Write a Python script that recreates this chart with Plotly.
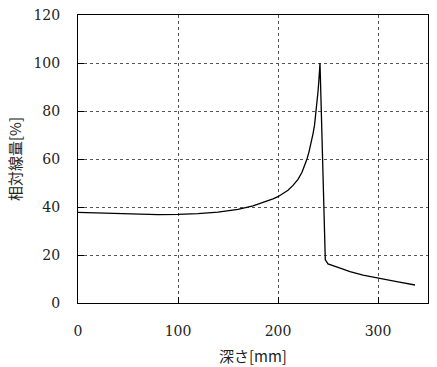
import plotly.graph_objects as go

depth_mm = [0, 20, 40, 60, 80, 100, 120, 140, 160, 175, 185, 195, 200, 205, 210,
            215, 220, 224, 227, 229, 231, 233, 235, 236.5, 238, 239, 240, 241, 242,
            247.3, 250, 260, 272, 285, 300, 320, 337]
relative_dose = [37.8, 37.5, 37.2, 36.9, 36.8, 36.9, 37.2, 37.9, 39.0, 40.5, 41.8,
                 43.4, 44.3, 45.5, 47.0, 49.0, 51.5, 54.5, 57.5, 60, 63, 66.5, 70.5,
                 74, 79, 83, 88, 93.5, 100, 18, 16.3, 14.8, 13.1, 11.6, 10.3, 8.8, 7.5]

x_ticks = [0, 100, 200, 300]
y_ticks = [0, 20, 40, 60, 80, 100, 120]
x_title = "深さ[mm]"
y_title = "相対線量[%]"

num_font = "DejaVu Serif"
jp_font = "Noto Sans CJK JP"

fig = go.Figure()
fig.add_trace(go.Scatter(
    x=depth_mm, y=relative_dose, mode="lines",
    line=dict(color="black", width=1.3),
    showlegend=False, hoverinfo="skip",
))

axis_common = dict(
    showline=True, linecolor="black", linewidth=1, mirror=True,
    ticks="inside", ticklen=6, tickcolor="black", tickwidth=1,
    showgrid=True, gridcolor="#555555", griddash="dot", gridwidth=1,
    zeroline=False, automargin=False,
    tickfont=dict(size=14, color="#222222", family=num_font),
)

fig.update_xaxes(range=[0, 350], tickvals=x_ticks, ticklabelstandoff=15, **axis_common)
fig.update_yaxes(range=[0, 120], tickvals=y_ticks, ticklabelstandoff=14, **axis_common)

fig.add_annotation(text=x_title, xref="paper", yref="paper", x=0.5, y=0,
                   yshift=-52, xanchor="center", yanchor="middle", showarrow=False,
                   font=dict(size=15, color="#222222", family=jp_font))
fig.add_annotation(text=y_title, xref="paper", yref="paper", x=0, y=0.5,
                   xshift=-64, xanchor="center", yanchor="middle", showarrow=False,
                   textangle=-90,
                   font=dict(size=15, color="#222222", family=jp_font))

fig.update_layout(
    width=437, height=367,
    margin=dict(l=78, r=9, t=15, b=64),
    plot_bgcolor="white", paper_bgcolor="white",
    font=dict(family=num_font),
)

fig.write_html("out.html", config={"displayModeBar": False},
               post_script="document.body.style.margin='0';document.body.style.overflow='hidden';")
